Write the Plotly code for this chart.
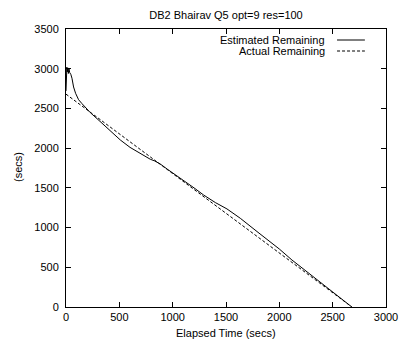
import plotly.graph_objects as go

# Estimated remaining time
est_x = [0, 3, 8, 12, 18, 22, 28, 35, 45, 56, 71, 90, 118, 150, 200, 228, 300, 400, 509,
         600, 665, 750, 790, 830, 884, 950, 1000, 1100, 1200, 1290, 1400, 1509, 1560,
         1634, 1800, 2000, 2118, 2300, 2500, 2680]
est_y = [2720, 2980, 3020, 2960, 3010, 2940, 3000, 2950, 2930, 2880, 2770, 2690, 2610,
         2560, 2490, 2447, 2360, 2240, 2103, 2010, 1956, 1895, 1860, 1840, 1800, 1735,
         1690, 1600, 1500, 1410, 1315, 1235, 1190, 1117, 940, 730, 592, 400, 200, 0]

# Actual remaining time
act_x = [0, 2680]
act_y = [2680, 0]

x_ticks = [0, 500, 1000, 1500, 2000, 2500, 3000]
y_ticks = [0, 500, 1000, 1500, 2000, 2500, 3000, 3500]

FONT = "Liberation Sans, Arial, Helvetica, sans-serif"

fig = go.Figure()
fig.add_trace(go.Scatter(x=est_x, y=est_y, mode="lines", name="Estimated Remaining",
                         line=dict(color="black", width=1), showlegend=False))
fig.add_trace(go.Scatter(x=act_x, y=act_y, mode="lines", name="Actual Remaining",
                         line=dict(color="black", width=1, dash="3px,2px"), showlegend=False))

axis_common = dict(showgrid=False, zeroline=False, showline=True, linecolor="black",
                   linewidth=1, mirror="ticks", ticks="inside", ticklen=5,
                   tickcolor="black", tickwidth=1,
                   tickfont=dict(family=FONT, size=11, color="black"))

fig.update_xaxes(range=[0, 3000], tickvals=x_ticks, **axis_common)
fig.update_yaxes(range=[0, 3500], tickvals=y_ticks, ticklabelstandoff=4, **axis_common)

# legend drawn gnuplot-style (text then sample)
fig.add_annotation(x=0.8156, y=(307 - 40) / 278, xref="paper", yref="paper",
                   text="Estimated Remaining", showarrow=False, xanchor="right",
                   yanchor="middle", font=dict(family=FONT, size=11, color="black"))
fig.add_annotation(x=0.8156, y=(307 - 51) / 278, xref="paper", yref="paper",
                   text="Actual Remaining", showarrow=False, xanchor="right",
                   yanchor="middle", font=dict(family=FONT, size=11, color="black"))
fig.add_shape(type="line", xref="paper", yref="paper", x0=0.847, x1=0.934,
              y0=(307 - 40) / 278, y1=(307 - 40) / 278,
              line=dict(color="black", width=1))
fig.add_shape(type="line", xref="paper", yref="paper", x0=0.847, x1=0.934,
              y0=(307 - 51) / 278, y1=(307 - 51) / 278,
              line=dict(color="black", width=1, dash="3px,2px"))

# axis titles
fig.add_annotation(x=0.5, y=(307 - 333) / 278, xref="paper", yref="paper",
                   text="Elapsed Time (secs)", showarrow=False, xanchor="center",
                   yanchor="middle", font=dict(family=FONT, size=11, color="black"))
fig.add_annotation(x=(18 - 66) / 320, y=(307 - 167) / 278, xref="paper", yref="paper",
                   text="(secs)", showarrow=False, textangle=-90, xanchor="center",
                   yanchor="middle", font=dict(family=FONT, size=11, color="black"))

fig.update_layout(
    width=401, height=348,
    margin=dict(l=66, r=15, t=29, b=41, autoexpand=False),
    paper_bgcolor="white", plot_bgcolor="white",
    title=dict(text="DB2 Bhairav Q5 opt=9 res=100", x=226 / 401, xanchor="center",
               y=1 - 15 / 348, yanchor="middle",
               font=dict(family=FONT, size=11, color="black")),
    showlegend=False,
)

fig.write_html("out.html")
